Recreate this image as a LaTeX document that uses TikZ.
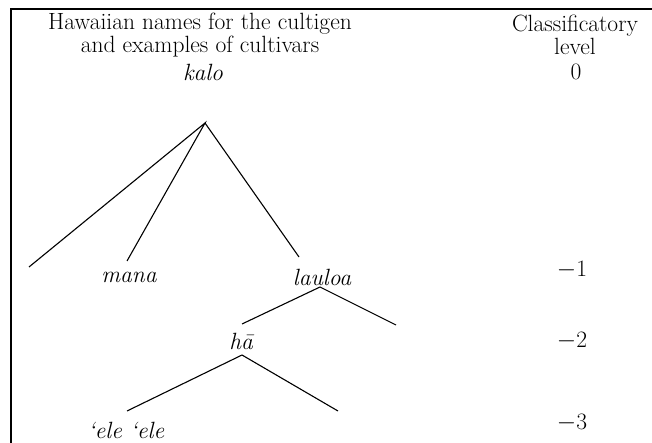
\documentclass[tikz,border=0pt]{standalone}
\usepackage{tikz}

\begin{document}
\begin{tikzpicture}[x=1pt, y=-1pt,
    txt/.style={font=\fontsize{23.5}{22.5}\selectfont, inner sep=0pt, align=center},
    cult/.style={txt, font=\fontsize{23.5}{22.5}\selectfont\itshape},
    branch/.style={line width=1.1pt}]
    \useasboundingbox (0,0) rectangle (652,443);
    % frame (open at the bottom and right)
    \draw[line width=1.2pt] (11,443) -- (11,9) -- (652,9);

    % headings
    \node[txt] (head) at (200,35) {Hawaiian names for the cultigen\\and examples of cultivars};
    \node[txt] (lvl) at (575,35) {Classificatory\\level};

    % names
    \node[cult] (kalo) at (203,72) {kalo};
    \node[cult] (mana) at (129,277) {mana};
    \node[cult] (lauloa) at (322,277) {lauloa};
    \node[cult] (ha) at (241,341) {h\=a};
    \node[cult] (ele) at (126,430) {`ele `ele};

    % levels
    \node[txt] (l0) at (576,72) {0};
    \node[txt] (l1) at (572,270) {$-$1};
    \node[txt] (l2) at (572,341) {$-$2};
    \node[txt] (l3) at (572,423) {$-$3};

    % branch points and open ends
    \coordinate (k) at (205,123);
    \coordinate (k1) at (29,267);
    \coordinate (k2) at (127,261);
    \coordinate (k3) at (299,257);
    \coordinate (l) at (320,287);
    \coordinate (l1) at (242,324);
    \coordinate (l2) at (396,325);
    \coordinate (h) at (242,355);
    \coordinate (h1) at (127,411);
    \coordinate (h2) at (338,411);

    \draw[branch] (k1) -- (k) -- (k2);
    \draw[branch] (k) -- (k3);
    \draw[branch] (l1) -- (l) -- (l2);
    \draw[branch] (h1) -- (h) -- (h2);
\end{tikzpicture}
\end{document}
